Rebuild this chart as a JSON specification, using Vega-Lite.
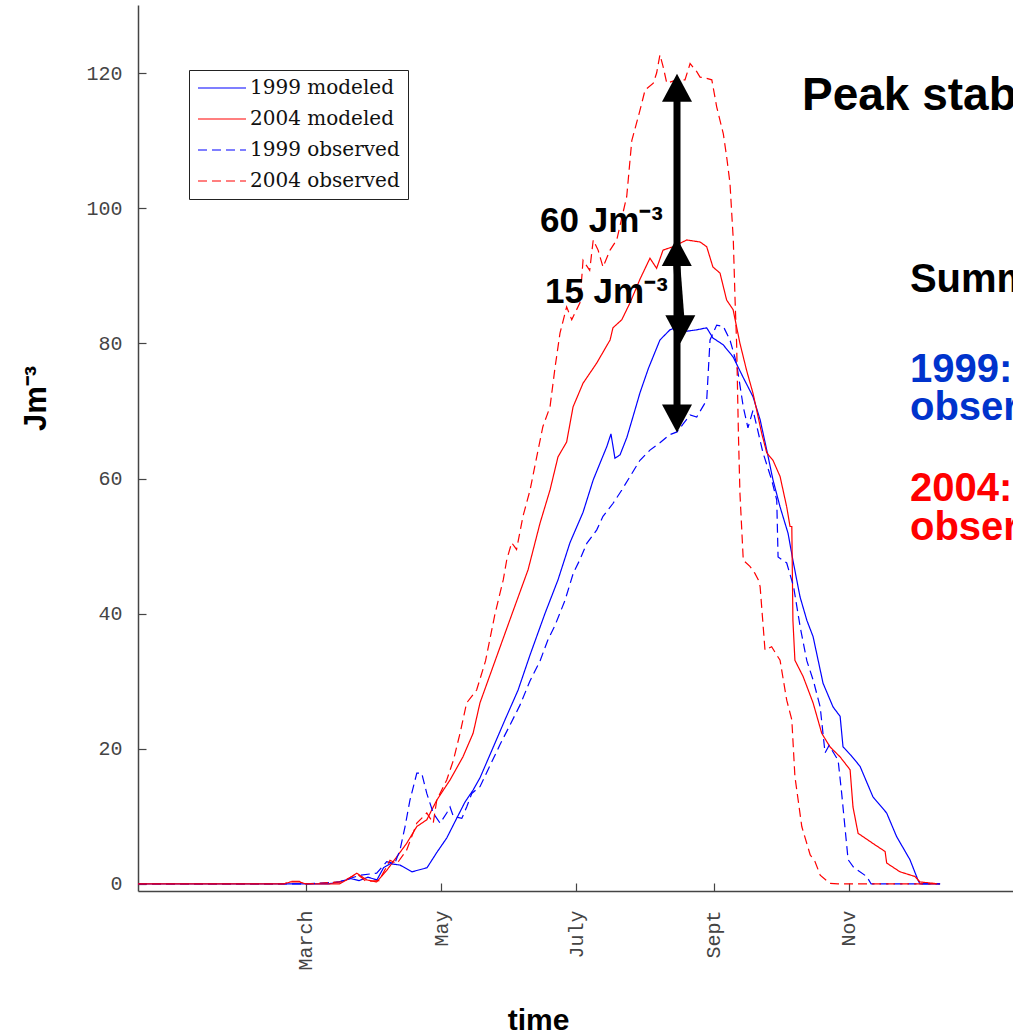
{
  "$schema": "https://vega.github.io/schema/vega-lite/v6.json",
  "width": 875,
  "height": 886,
  "autosize": {"type": "none"},
  "padding": {"left": 138, "top": 5, "right": 0, "bottom": 144},
  "background": "white",
  "config": {"view": {"stroke": null}, "axis": {"grid": false}},
  "datasets": {
    "lines": [
      {"s":"1999 modeled","d":-15.8,"v":0},{"s":"1999 modeled","d":20,"v":0},{"s":"1999 modeled","d":50,"v":0},{"s":"1999 modeled","d":70,"v":0},{"s":"1999 modeled","d":75,"v":0.3},{"s":"1999 modeled","d":80,"v":0.8},{"s":"1999 modeled","d":84,"v":0.5},{"s":"1999 modeled","d":88,"v":1.0},{"s":"1999 modeled","d":92,"v":0.6},{"s":"1999 modeled","d":95,"v":2.4},{"s":"1999 modeled","d":98,"v":3.0},{"s":"1999 modeled","d":102.4,"v":2.8},{"s":"1999 modeled","d":107.8,"v":1.8},{"s":"1999 modeled","d":114.6,"v":2.4},{"s":"1999 modeled","d":119.1,"v":4.7},{"s":"1999 modeled","d":123.5,"v":6.8},{"s":"1999 modeled","d":127.2,"v":9.2},{"s":"1999 modeled","d":131.7,"v":12.1},{"s":"1999 modeled","d":135.4,"v":13.9},{"s":"1999 modeled","d":138.5,"v":15.7},{"s":"1999 modeled","d":143.9,"v":19.8},{"s":"1999 modeled","d":149.8,"v":24.3},{"s":"1999 modeled","d":155.7,"v":28.7},{"s":"1999 modeled","d":161.1,"v":33.9},{"s":"1999 modeled","d":167.8,"v":40},{"s":"1999 modeled","d":173.7,"v":45},{"s":"1999 modeled","d":179.1,"v":50.5},{"s":"1999 modeled","d":185,"v":55},{"s":"1999 modeled","d":189.6,"v":59.8},{"s":"1999 modeled","d":192.7,"v":62.3},{"s":"1999 modeled","d":195.7,"v":64.7},{"s":"1999 modeled","d":197.6,"v":66.6},{"s":"1999 modeled","d":199.4,"v":63},{"s":"1999 modeled","d":201.7,"v":63.5},{"s":"1999 modeled","d":204.8,"v":66.1},{"s":"1999 modeled","d":207.5,"v":69.1},{"s":"1999 modeled","d":210.7,"v":72.7},{"s":"1999 modeled","d":214.5,"v":76.3},{"s":"1999 modeled","d":219.7,"v":80.5},{"s":"1999 modeled","d":224.2,"v":82},{"s":"1999 modeled","d":228,"v":82.5},{"s":"1999 modeled","d":231.8,"v":81.8},{"s":"1999 modeled","d":236.3,"v":82},{"s":"1999 modeled","d":240.8,"v":82.3},{"s":"1999 modeled","d":243.6,"v":80.8},{"s":"1999 modeled","d":248.2,"v":79.8},{"s":"1999 modeled","d":252.7,"v":78},{"s":"1999 modeled","d":257.2,"v":75},{"s":"1999 modeled","d":261.7,"v":72.1},{"s":"1999 modeled","d":264.9,"v":68.7},{"s":"1999 modeled","d":267.9,"v":64.2},{"s":"1999 modeled","d":270.7,"v":59.8},{"s":"1999 modeled","d":273.9,"v":55.8},{"s":"1999 modeled","d":277.5,"v":51.9},{"s":"1999 modeled","d":279.7,"v":47.9},{"s":"1999 modeled","d":282.9,"v":42.5},{"s":"1999 modeled","d":286,"v":39},{"s":"1999 modeled","d":288.8,"v":36.6},{"s":"1999 modeled","d":293.3,"v":29.7},{"s":"1999 modeled","d":297.8,"v":26.2},{"s":"1999 modeled","d":301,"v":24.8},{"s":"1999 modeled","d":302.3,"v":20.3},{"s":"1999 modeled","d":306,"v":19},{"s":"1999 modeled","d":310,"v":17.4},{"s":"1999 modeled","d":315.8,"v":12.9},{"s":"1999 modeled","d":322,"v":10.5},{"s":"1999 modeled","d":326.5,"v":7},{"s":"1999 modeled","d":332.5,"v":3.6},{"s":"1999 modeled","d":336.1,"v":0.6},{"s":"1999 modeled","d":337,"v":0},{"s":"1999 modeled","d":346.1,"v":0},
      {"s":"2004 modeled","d":-15.8,"v":0},{"s":"2004 modeled","d":50,"v":0},{"s":"2004 modeled","d":53,"v":0.3},{"s":"2004 modeled","d":57,"v":0.3},{"s":"2004 modeled","d":60,"v":0},{"s":"2004 modeled","d":75,"v":0},{"s":"2004 modeled","d":78.4,"v":0.6},{"s":"2004 modeled","d":82.9,"v":1.6},{"s":"2004 modeled","d":87.4,"v":0.6},{"s":"2004 modeled","d":91.9,"v":0.3},{"s":"2004 modeled","d":96.4,"v":2},{"s":"2004 modeled","d":100.9,"v":4},{"s":"2004 modeled","d":105.4,"v":6},{"s":"2004 modeled","d":110,"v":8.5},{"s":"2004 modeled","d":114.5,"v":9.5},{"s":"2004 modeled","d":119,"v":12.4},{"s":"2004 modeled","d":125,"v":15.4},{"s":"2004 modeled","d":130.8,"v":18.8},{"s":"2004 modeled","d":135.4,"v":22.3},{"s":"2004 modeled","d":138.5,"v":26.8},{"s":"2004 modeled","d":145.3,"v":33},{"s":"2004 modeled","d":153,"v":40},{"s":"2004 modeled","d":160.2,"v":46.5},{"s":"2004 modeled","d":165.6,"v":53.4},{"s":"2004 modeled","d":170.1,"v":58.3},{"s":"2004 modeled","d":173.7,"v":63.2},{"s":"2004 modeled","d":177.6,"v":65.4},{"s":"2004 modeled","d":180.5,"v":70.6},{"s":"2004 modeled","d":185,"v":74.1},{"s":"2004 modeled","d":191.2,"v":77.1},{"s":"2004 modeled","d":197.2,"v":80.5},{"s":"2004 modeled","d":198.5,"v":82.3},{"s":"2004 modeled","d":202.5,"v":83.5},{"s":"2004 modeled","d":206.2,"v":86},{"s":"2004 modeled","d":210.7,"v":89.5},{"s":"2004 modeled","d":215.2,"v":92.6},{"s":"2004 modeled","d":218.2,"v":91.1},{"s":"2004 modeled","d":221.1,"v":93.8},{"s":"2004 modeled","d":225.6,"v":94.3},{"s":"2004 modeled","d":231.8,"v":95.3},{"s":"2004 modeled","d":237.8,"v":95},{"s":"2004 modeled","d":240.8,"v":94.3},{"s":"2004 modeled","d":243.6,"v":91.3},{"s":"2004 modeled","d":246.8,"v":90.4},{"s":"2004 modeled","d":249.8,"v":86.4},{"s":"2004 modeled","d":252.7,"v":85},{"s":"2004 modeled","d":255.8,"v":80},{"s":"2004 modeled","d":258.8,"v":76},{"s":"2004 modeled","d":261.7,"v":72.6},{"s":"2004 modeled","d":265.6,"v":66.7},{"s":"2004 modeled","d":267.9,"v":63.8},{"s":"2004 modeled","d":270.7,"v":62.7},{"s":"2004 modeled","d":273.9,"v":60.3},{"s":"2004 modeled","d":276.9,"v":55.8},{"s":"2004 modeled","d":278.4,"v":52.9},{"s":"2004 modeled","d":279.2,"v":52.9},{"s":"2004 modeled","d":279.7,"v":39},{"s":"2004 modeled","d":280.6,"v":33.1},{"s":"2004 modeled","d":284.3,"v":30.7},{"s":"2004 modeled","d":288.8,"v":26.8},{"s":"2004 modeled","d":292.7,"v":22.3},{"s":"2004 modeled","d":296.4,"v":20.3},{"s":"2004 modeled","d":301,"v":18.8},{"s":"2004 modeled","d":305.5,"v":16.9},{"s":"2004 modeled","d":306.8,"v":11.4},{"s":"2004 modeled","d":309.1,"v":7.5},{"s":"2004 modeled","d":315.8,"v":6},{"s":"2004 modeled","d":321.3,"v":4.8},{"s":"2004 modeled","d":322,"v":3.1},{"s":"2004 modeled","d":328,"v":1.8},{"s":"2004 modeled","d":334.8,"v":1.1},{"s":"2004 modeled","d":337,"v":0.3},{"s":"2004 modeled","d":346.1,"v":0},
      {"s":"1999 observed","d":-15.8,"v":0},{"s":"1999 observed","d":60,"v":0},{"s":"1999 observed","d":75,"v":0.3},{"s":"1999 observed","d":84.4,"v":1.3},{"s":"1999 observed","d":91.9,"v":1.6},{"s":"1999 observed","d":96.4,"v":3.3},{"s":"1999 observed","d":100,"v":3},{"s":"1999 observed","d":102.4,"v":5},{"s":"1999 observed","d":104.7,"v":8.5},{"s":"1999 observed","d":106.9,"v":12.4},{"s":"1999 observed","d":110,"v":16.4},{"s":"1999 observed","d":112.2,"v":16.4},{"s":"1999 observed","d":114.5,"v":13.4},{"s":"1999 observed","d":117.4,"v":10.5},{"s":"1999 observed","d":120.5,"v":9},{"s":"1999 observed","d":123.5,"v":10.5},{"s":"1999 observed","d":125,"v":11.4},{"s":"1999 observed","d":126.5,"v":10},{"s":"1999 observed","d":130.3,"v":9.7},{"s":"1999 observed","d":132.5,"v":11.4},{"s":"1999 observed","d":134.8,"v":13.4},{"s":"1999 observed","d":138.5,"v":14.4},{"s":"1999 observed","d":143,"v":17.5},{"s":"1999 observed","d":147.5,"v":20.6},{"s":"1999 observed","d":152,"v":23.5},{"s":"1999 observed","d":156.6,"v":26.5},{"s":"1999 observed","d":161,"v":30},{"s":"1999 observed","d":165.6,"v":33},{"s":"1999 observed","d":169,"v":36},{"s":"1999 observed","d":172.4,"v":38.3},{"s":"1999 observed","d":176.9,"v":42},{"s":"1999 observed","d":180.6,"v":46},{"s":"1999 observed","d":183.6,"v":48},{"s":"1999 observed","d":186.7,"v":50.4},{"s":"1999 observed","d":191.2,"v":52.4},{"s":"1999 observed","d":194,"v":54.4},{"s":"1999 observed","d":198.5,"v":56.3},{"s":"1999 observed","d":202.5,"v":58.3},{"s":"1999 observed","d":206.2,"v":60.3},{"s":"1999 observed","d":210.7,"v":62.7},{"s":"1999 observed","d":215.2,"v":64.2},{"s":"1999 observed","d":219.7,"v":65.3},{"s":"1999 observed","d":224.2,"v":66.5},{"s":"1999 observed","d":227.4,"v":66.9},{"s":"1999 observed","d":230,"v":68},{"s":"1999 observed","d":233.3,"v":69.4},{"s":"1999 observed","d":236.3,"v":69.1},{"s":"1999 observed","d":240.8,"v":71.6},{"s":"1999 observed","d":242.3,"v":80.5},{"s":"1999 observed","d":245.3,"v":82.7},{"s":"1999 observed","d":248.3,"v":82.5},{"s":"1999 observed","d":251.3,"v":80.5},{"s":"1999 observed","d":254.3,"v":77},{"s":"1999 observed","d":257.3,"v":70.6},{"s":"1999 observed","d":259.4,"v":67.5},{"s":"1999 observed","d":261.7,"v":70.1},{"s":"1999 observed","d":266.2,"v":63.8},{"s":"1999 observed","d":270.1,"v":59.8},{"s":"1999 observed","d":272.4,"v":56.8},{"s":"1999 observed","d":273,"v":48.4},{"s":"1999 observed","d":276.9,"v":47.5},{"s":"1999 observed","d":280,"v":44},{"s":"1999 observed","d":283,"v":38},{"s":"1999 observed","d":286,"v":33},{"s":"1999 observed","d":289,"v":30},{"s":"1999 observed","d":292,"v":26.2},{"s":"1999 observed","d":294.2,"v":19.4},{"s":"1999 observed","d":296,"v":20.5},{"s":"1999 observed","d":300.1,"v":18.3},{"s":"1999 observed","d":301.7,"v":13.4},{"s":"1999 observed","d":304.6,"v":3.6},{"s":"1999 observed","d":307,"v":2.5},{"s":"1999 observed","d":313,"v":1.1},{"s":"1999 observed","d":315,"v":0},{"s":"1999 observed","d":346.1,"v":0},
      {"s":"2004 observed","d":-15.8,"v":0},{"s":"2004 observed","d":50,"v":0},{"s":"2004 observed","d":53,"v":0.4},{"s":"2004 observed","d":57,"v":0.4},{"s":"2004 observed","d":60,"v":0},{"s":"2004 observed","d":76,"v":0.3},{"s":"2004 observed","d":79,"v":0.8},{"s":"2004 observed","d":83,"v":1.5},{"s":"2004 observed","d":87,"v":0.4},{"s":"2004 observed","d":93,"v":0.5},{"s":"2004 observed","d":97.9,"v":3.5},{"s":"2004 observed","d":101,"v":3},{"s":"2004 observed","d":105.4,"v":5},{"s":"2004 observed","d":110,"v":9},{"s":"2004 observed","d":114.5,"v":10.5},{"s":"2004 observed","d":117.4,"v":9},{"s":"2004 observed","d":119,"v":12.4},{"s":"2004 observed","d":123.5,"v":15.4},{"s":"2004 observed","d":126.5,"v":18.3},{"s":"2004 observed","d":129.5,"v":22.3},{"s":"2004 observed","d":132.5,"v":26.8},{"s":"2004 observed","d":137,"v":28.7},{"s":"2004 observed","d":141,"v":33},{"s":"2004 observed","d":145.3,"v":40},{"s":"2004 observed","d":149,"v":45},{"s":"2004 observed","d":150.6,"v":48},{"s":"2004 observed","d":152.8,"v":50.5},{"s":"2004 observed","d":155,"v":49.5},{"s":"2004 observed","d":157.9,"v":54.4},{"s":"2004 observed","d":161.1,"v":58.3},{"s":"2004 observed","d":164.1,"v":63.2},{"s":"2004 observed","d":166.9,"v":67.7},{"s":"2004 observed","d":170.1,"v":70.6},{"s":"2004 observed","d":172.4,"v":76.5},{"s":"2004 observed","d":174.6,"v":81.5},{"s":"2004 observed","d":177.6,"v":85.4},{"s":"2004 observed","d":179.9,"v":83.5},{"s":"2004 observed","d":183.6,"v":86},{"s":"2004 observed","d":185,"v":92.3},{"s":"2004 observed","d":188,"v":90.8},{"s":"2004 observed","d":189.6,"v":95.3},{"s":"2004 observed","d":191.8,"v":93.8},{"s":"2004 observed","d":194,"v":91.3},{"s":"2004 observed","d":197.2,"v":93.8},{"s":"2004 observed","d":200.2,"v":95.3},{"s":"2004 observed","d":204.7,"v":101.7},{"s":"2004 observed","d":207,"v":110},{"s":"2004 observed","d":210.7,"v":114.5},{"s":"2004 observed","d":213,"v":117.5},{"s":"2004 observed","d":216.7,"v":118.5},{"s":"2004 observed","d":218.2,"v":120},{"s":"2004 observed","d":219.7,"v":122.7},{"s":"2004 observed","d":221.1,"v":121},{"s":"2004 observed","d":222.8,"v":118.5},{"s":"2004 observed","d":227.3,"v":119},{"s":"2004 observed","d":231,"v":119},{"s":"2004 observed","d":233.3,"v":121.4},{"s":"2004 observed","d":236.3,"v":120.2},{"s":"2004 observed","d":237.8,"v":119.4},{"s":"2004 observed","d":240.8,"v":119.2},{"s":"2004 observed","d":243.1,"v":119},{"s":"2004 observed","d":245.3,"v":115},{"s":"2004 observed","d":248.3,"v":111},{"s":"2004 observed","d":249.8,"v":107.6},{"s":"2004 observed","d":251.3,"v":103.7},{"s":"2004 observed","d":252.1,"v":99.2},{"s":"2004 observed","d":252.8,"v":95.3},{"s":"2004 observed","d":253.6,"v":86.4},{"s":"2004 observed","d":254.3,"v":80},{"s":"2004 observed","d":255.1,"v":66.7},{"s":"2004 observed","d":255.8,"v":57.8},{"s":"2004 observed","d":257.3,"v":47.9},{"s":"2004 observed","d":260.3,"v":47},{"s":"2004 observed","d":262.5,"v":46},{"s":"2004 observed","d":264.1,"v":45},{"s":"2004 observed","d":264.9,"v":44},{"s":"2004 observed","d":267.1,"v":34.6},{"s":"2004 observed","d":270.1,"v":35.1},{"s":"2004 observed","d":273.9,"v":33.1},{"s":"2004 observed","d":276.9,"v":27.2},{"s":"2004 observed","d":279.2,"v":24.3},{"s":"2004 observed","d":280.6,"v":15.9},{"s":"2004 observed","d":283.7,"v":8.5},{"s":"2004 observed","d":287.5,"v":4.3},{"s":"2004 observed","d":289.7,"v":3.3},{"s":"2004 observed","d":292,"v":1.3},{"s":"2004 observed","d":296.4,"v":0.1},{"s":"2004 observed","d":300,"v":0},{"s":"2004 observed","d":346.1,"v":0}
    ],
    "shafts": [
      {"d":227.4,"v":117,"d2":227.4,"v2":69.5},
      {"d":227.3,"v":91.6,"d2":229.2,"v2":83.5}
    ],
    "upHeads": [{"d":227.4,"v":119.9},{"d":227.3,"v":95.6}],
    "downHeads": [{"d":228.9,"v":80},{"d":227.4,"v":66.8}],
    "ann": [{"t":"60 Jm⁻³","d":165.6,"v":96.5},{"t":"15 Jm⁻³","d":167.8,"v":85.9}],
    "head": [{"t":"Peak stability","d":283.8,"v":114.5}],
    "summary": [{"t":"Summary","d":332.5,"v":87.6}],
    "blueText": [{"t":"1999:","d":332.5,"v":74.3},{"t":"observed","d":332.5,"v":68.7}],
    "redText": [{"t":"2004:","d":332.5,"v":56.6},{"t":"observed","d":332.5,"v":50.9}]
  },
  "encoding": {
    "x": {
      "field": "d", "type": "quantitative",
      "scale": {"domain": [-15.8, 379], "nice": false, "zero": false},
      "axis": {
        "values": [60, 121, 182, 244, 305],
        "labelExpr": "datum.value == 60 ? 'March' : datum.value == 121 ? 'May' : datum.value == 182 ? 'July' : datum.value == 244 ? 'Sept' : 'Nov'",
        "labelAngle": 270,
        "labelFont": "Liberation Mono", "labelFontSize": 20, "labelColor": "#444444",
        "labelPadding": 27,
        "tickSize": -8, "tickColor": "#444444", "tickWidth": 1.2,
        "domainColor": "#444444", "domainWidth": 1.5,
        "title": "time", "titleFont": "Liberation Sans", "titleFontWeight": "bold", "titleFontSize": 30, "titleColor": "#000000",
        "titleX": 400, "titleY": 138, "titleBaseline": "alphabetic", "titleAlign": "center"
      }
    },
    "y": {
      "field": "v", "type": "quantitative",
      "scale": {"domain": [-1.04, 130.07], "nice": false, "zero": false},
      "axis": {
        "values": [0, 20, 40, 60, 80, 100, 120],
        "labelFont": "Liberation Mono", "labelFontSize": 20, "labelColor": "#444444",
        "labelPadding": 24,
        "tickSize": -8, "tickColor": "#444444", "tickWidth": 1.2,
        "domainColor": "#444444", "domainWidth": 1.5,
        "title": "Jm⁻³", "titleFont": "Liberation Sans", "titleFontWeight": "bold", "titleFontSize": 31, "titleColor": "#000000",
        "titleAngle": 270, "titleX": -93, "titleY": 393, "titleBaseline": "alphabetic", "titleAlign": "center"
      }
    }
  },
  "layer": [
    {
      "data": {"name": "lines"},
      "mark": {"type": "line", "strokeWidth": 1.2},
      "encoding": {
        "color": {
          "field": "s", "type": "nominal",
          "scale": {"domain": ["1999 modeled", "2004 modeled", "1999 observed", "2004 observed"], "range": ["#0000ff", "#ff0000", "#0000ff", "#ff0000"]},
          "legend": {"orient": "none", "legendX": 51, "legendY": 65, "title": null, "strokeColor": "#222222", "fillColor": "#ffffff", "padding": 8, "symbolType": "stroke", "symbolSize": 2304, "symbolStrokeWidth": 1.2, "labelFont": "DejaVu Serif", "labelFontSize": 20, "labelColor": "#111111", "labelOffset": 3, "rowPadding": 11, "clipHeight": 20}
        },
        "strokeDash": {
          "field": "s", "type": "nominal",
          "scale": {"domain": ["1999 modeled", "2004 modeled", "1999 observed", "2004 observed"], "range": [[1, 0], [1, 0], [9, 5], [9, 5]]},
          "legend": {"orient": "none", "legendX": 51, "legendY": 65, "title": null, "strokeColor": "#222222", "fillColor": "#ffffff", "padding": 8, "symbolType": "stroke", "symbolSize": 2304, "symbolStrokeWidth": 1.2, "labelFont": "DejaVu Serif", "labelFontSize": 20, "labelColor": "#111111", "labelOffset": 3, "rowPadding": 11, "clipHeight": 20}
        }
      }
    },
    {
      "data": {"name": "shafts"},
      "mark": {"type": "rule", "strokeWidth": 7, "color": "#000000"},
      "encoding": {"x2": {"field": "d2"}, "y2": {"field": "v2"}}
    },
    {
      "data": {"name": "upHeads"},
      "mark": {"type": "point", "shape": "M0,0L1,1.87L-1,1.87Z", "size": 900, "filled": true, "color": "#000000", "opacity": 1, "strokeWidth": 0}
    },
    {
      "data": {"name": "downHeads"},
      "mark": {"type": "point", "shape": "M0,0L1,-1.87L-1,-1.87Z", "size": 900, "filled": true, "color": "#000000", "opacity": 1, "strokeWidth": 0}
    },
    {
      "data": {"name": "ann"},
      "mark": {"type": "text", "font": "Liberation Sans", "fontWeight": "bold", "fontSize": 35, "align": "left", "baseline": "alphabetic", "color": "#000000"},
      "encoding": {"text": {"field": "t"}}
    },
    {
      "data": {"name": "head"},
      "mark": {"type": "text", "font": "Liberation Sans", "fontWeight": "bold", "fontSize": 46, "align": "left", "baseline": "alphabetic", "color": "#000000"},
      "encoding": {"text": {"field": "t"}}
    },
    {
      "data": {"name": "summary"},
      "mark": {"type": "text", "font": "Liberation Sans", "fontWeight": "bold", "fontSize": 40, "align": "left", "baseline": "alphabetic", "color": "#000000"},
      "encoding": {"text": {"field": "t"}}
    },
    {
      "data": {"name": "blueText"},
      "mark": {"type": "text", "font": "Liberation Sans", "fontWeight": "bold", "fontSize": 40, "align": "left", "baseline": "alphabetic", "color": "#0033cc"},
      "encoding": {"text": {"field": "t"}}
    },
    {
      "data": {"name": "redText"},
      "mark": {"type": "text", "font": "Liberation Sans", "fontWeight": "bold", "fontSize": 40, "align": "left", "baseline": "alphabetic", "color": "#ff0000"},
      "encoding": {"text": {"field": "t"}}
    }
  ]
}
